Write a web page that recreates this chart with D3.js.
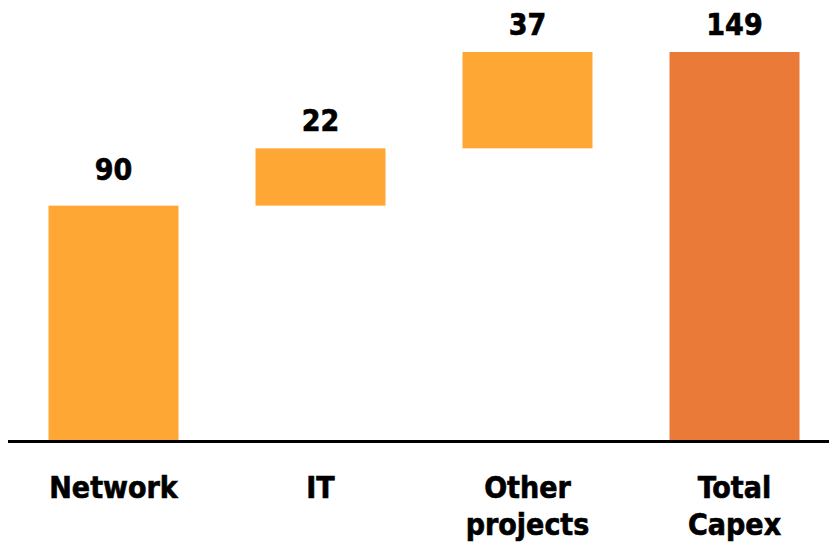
<!DOCTYPE html>
<html>
<head>
<meta charset="utf-8">
<script src="https://cdn.jsdelivr.net/npm/d3@7"></script>
<style>
  html, body { margin: 0; padding: 0; background: #fff; }
  svg { display: block; }
  text { font-family: "DejaVu Sans Condensed", "DejaVu Sans", Tahoma, sans-serif; font-weight: bold; fill: #000; stroke: #000; stroke-width: 0.6px; }
</style>
</head>
<body>
<svg id="chart" width="829" height="543"></svg>
<script>
// Capex waterfall: three components stacked into a total
const categories = ["Network", "IT", "Other projects", "Total Capex"];
const labelLines = [["Network"], ["IT"], ["Other", "projects"], ["Total", "Capex"]];
const values = [90, 22, 37, 149];
const isTotal = [false, false, false, true];

// running start/end of each step
let run = 0;
const steps = categories.map((c, i) => {
  let start, end;
  if (isTotal[i]) { start = 0; end = values[i]; }
  else { start = run; end = run + values[i]; run = end; }
  return { cat: c, lines: labelLines[i], value: values[i], start, end, total: isTotal[i], first: i === 0 };
});

const svg = d3.select("#chart");
const W = 829, H = 543;
const margin = { top: 52, bottom: 103 };

const x = d3.scaleBand()
  .domain(categories)
  .range([10, 838])
  .paddingInner(0.372)
  .paddingOuter(0.186);

const y = d3.scaleLinear()
  .domain([0, 149])
  .range([H - margin.bottom, margin.top]);

// bars
svg.selectAll("rect.bar")
  .data(steps)
  .join("rect")
  .attr("class", "bar")
  .attr("x", d => x(d.cat))
  .attr("width", x.bandwidth())
  .attr("y", d => y(d.end))
  .attr("height", d => y(d.start) - y(d.end))
  .attr("fill", d => d.total ? "#E97A38" : "#FFA735");

// value labels above each bar
svg.selectAll("text.val")
  .data(steps)
  .join("text")
  .attr("class", "val")
  .attr("x", d => x(d.cat) + x.bandwidth() / 2)
  .attr("y", d => y(d.end) - (d.first ? 26 : 17))
  .attr("text-anchor", "middle")
  .attr("font-size", 30)
  .text(d => d.value);

// baseline axis
svg.append("line")
  .attr("x1", 8).attr("x2", W)
  .attr("y1", y(0) + 1.5).attr("y2", y(0) + 1.5)
  .attr("stroke", "#000")
  .attr("stroke-width", 3);

// category labels
const cat = svg.selectAll("text.cat")
  .data(steps)
  .join("text")
  .attr("class", "cat")
  .attr("text-anchor", "middle")
  .attr("font-size", 30)
  .attr("transform", d => `translate(${x(d.cat) + x.bandwidth() / 2},${y(0) + 58})`);

cat.selectAll("tspan")
  .data(d => d.lines)
  .join("tspan")
  .attr("x", 0)
  .attr("dy", (l, i) => i === 0 ? 0 : 37)
  .text(l => l);
</script>
</body>
</html>
